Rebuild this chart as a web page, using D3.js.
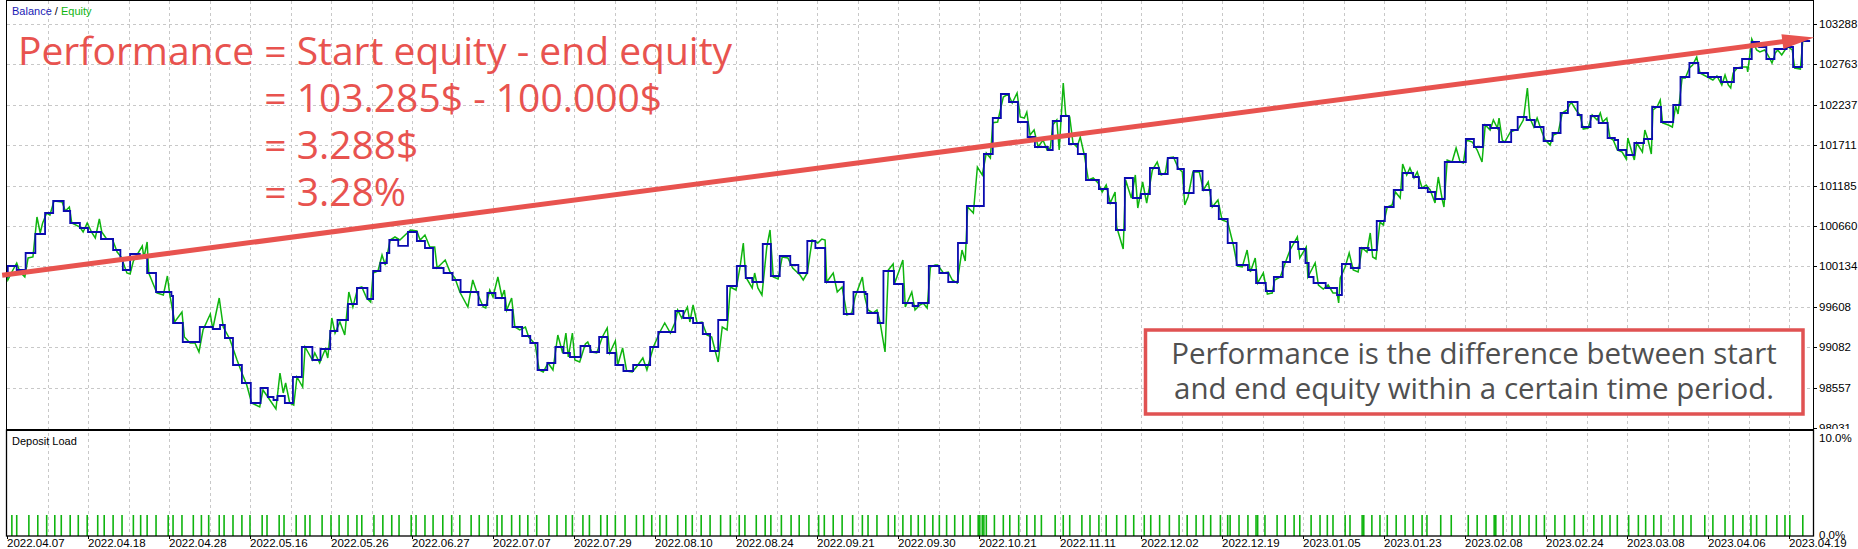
<!DOCTYPE html>
<html>
<head>
<meta charset="utf-8">
<script src="https://cdn.jsdelivr.net/npm/d3@7"></script>
<style>
body { margin: 0; background: #fff; }
svg text { font-family: "Liberation Sans", Arial, sans-serif; }
</style>
</head>
<body>
<script>
// x values are deal numbers, a date label every 10 deals
var dateLabels = ['2022.04.07','2022.04.18','2022.04.28','2022.05.16','2022.05.26','2022.06.27',
	'2022.07.07','2022.07.29','2022.08.10','2022.08.24','2022.09.21','2022.09.30','2022.10.21',
	'2022.11.11','2022.12.02','2022.12.19','2023.01.05','2023.01.23','2023.02.08','2023.02.24',
	'2023.03.08','2023.04.06','2023.04.19'];
var yTicks = [98031, 98557, 99082, 99608, 100134, 100660, 101185, 101711, 102237, 102763, 103288];
var loadTicks = [0, 10];

// [deal, balance]
var balance = [[0,100000],[0.1,100139],[1.2,100087],[2.3,100308],[3.5,100555],[4.7,100828],[5.7,100984],[7.0,100854],[7.8,100698],[9.0,100633],[10.0,100581],[11.6,100490],[13.1,100347],[14.0,100217],[14.3,100087],[15.2,100295],[16.4,100243],[17.3,100048],[18.4,99801],[20.3,99749],[20.5,99398],[21.7,99151],[23.8,99346],[25.4,99320],[26.3,99372],[26.9,99203],[27.9,98852],[29.0,98618],[30.1,98358],[31.3,98553],[32.2,98436],[32.9,98397],[33.4,98449],[34.3,98358],[35.3,98696],[36.4,99086],[37.7,98917],[38.7,99060],[39.9,99294],[40.8,99437],[42.1,99645],[43.2,99853],[44.5,99710],[45.2,100074],[46.1,100178],[46.9,100308],[47.2,100477],[48.3,100400],[49.5,100581],[50.6,100464],[51.6,100373],[52.6,100113],[53.9,100048],[55.0,99957],[56.0,99801],[58.2,99632],[59.3,99788],[60.3,99723],[61.5,99567],[62.4,99346],[63.6,99229],[64.6,99138],[65.5,98787],[66.7,98878],[67.7,99086],[68.7,99008],[69.5,98956],[70.8,99099],[72.0,99021],[73.1,99216],[74.1,99008],[75.1,98852],[76.1,98774],[77.3,98852],[79.4,99086],[80.4,99281],[82.5,99554],[83.5,99463],[84.7,99398],[85.9,99255],[86.8,99034],[87.8,99437],[88.9,99879],[90.1,100139],[91.2,99983],[92.0,99931],[93.3,100425],[94.3,100009],[95.4,100269],[96.7,100152],[97.7,100048],[98.8,100464],[99.8,100373],[101.0,99931],[103.3,99515],[104.5,99801],[106.0,99775],[106.2,99528],[107.5,99398],[108.2,100074],[109.5,99905],[110.6,99658],[111.8,99619],[112.5,99658],[113.8,100139],[115.1,100048],[116.2,99931],[117.4,100438],[118.5,100919],[120.6,101595],[121.7,102063],[122.7,102375],[123.7,102271],[124.8,102011],[126.0,101816],[126.9,101686],[128.5,101647],[129.1,102024],[130.1,102089],[131.1,101725],[132.2,101595],[133.2,101257],[134.8,101140],[135.9,100958],[136.9,100607],[138.0,101283],[139.0,101023],[140.0,101075],[141.1,101413],[142.2,101335],[143.3,101543],[144.5,101400],[145.3,101088],[146.5,101374],[147.6,101127],[148.6,100919],[149.6,100750],[150.7,100438],[151.8,100152],[153.2,100087],[154.2,99918],[155.4,99814],[156.4,99996],[157.5,100191],[158.4,100451],[159.4,100360],[160.3,100178],[160.7,99996],[161.3,99918],[162.8,99853],[164.2,99762],[164.8,100165],[165.9,100113],[167.0,100373],[168.1,100347],[169.1,100724],[170.1,100906],[171.2,101127],[172.3,101348],[173.6,101296],[174.3,101153],[175.4,101101],[176.3,101010],[177.5,101491],[180.1,101790],[181.1,101686],[182.2,101972],[183.1,101933],[184.2,101751],[185.7,101907],[186.5,102076],[187.6,102037],[188.6,101946],[189.7,101764],[190.8,101868],[191.8,102128],[192.7,102271],[193.9,102102],[194.4,101946],[195.5,102089],[196.5,101998],[197.6,101803],[198.5,101777],[198.9,101647],[199.9,101582],[200.9,101738],[202.1,101790],[203.1,102206],[204.2,102011],[205.7,102232],[206.6,102596],[207.7,102778],[208.8,102648],[210.0,102596],[211.6,102531],[213.2,102713],[214.2,102830],[215.4,103051],[216.3,102986],[217.2,102830],[218.2,102960],[219.7,102986],[220.5,102726],[221.6,103064],[222.6,103064]];

// [deal, equity]
var equity = [[0,100000],[0.1,99957],[0.6,100061],[1.2,100178],[1.6,100061],[2.2,99996],[2.6,100243],[3.2,100256],[3.7,100776],[4.1,100568],[4.4,100698],[4.9,100828],[5.3,100802],[5.8,100984],[6.8,100971],[7.2,100854],[7.7,100906],[8.0,100698],[9.0,100646],[9.4,100581],[9.9,100698],[10.5,100568],[10.9,100503],[11.4,100750],[11.7,100581],[12.3,100490],[13.0,100490],[13.6,100321],[14.1,100256],[14.8,100048],[15.2,100035],[15.6,100204],[16.7,100399],[16.9,100243],[17.3,100451],[17.5,100048],[18.5,99788],[19.3,99762],[19.8,100009],[20.1,99762],[20.7,99411],[21.6,99541],[21.9,99216],[22.6,99138],[23.2,99138],[23.7,99021],[24.2,99307],[25.1,99515],[25.4,99320],[26.2,99723],[26.7,99346],[27.5,99190],[28.4,98917],[29.0,98748],[29.6,98592],[30.2,98358],[31.2,98306],[31.6,98527],[32.2,98436],[33.2,98280],[33.7,98748],[34.1,98488],[34.4,98618],[34.9,98358],[35.4,98332],[35.8,98696],[36.5,98566],[36.8,99086],[37.7,98917],[38.0,99008],[38.6,98878],[39.3,99060],[39.6,98943],[40.1,99463],[40.5,99268],[41.1,99411],[41.7,99242],[42.2,99801],[42.7,99606],[43.3,99853],[43.8,99866],[44.4,99723],[44.9,99671],[45.2,100048],[45.8,100074],[46.3,100282],[46.7,100152],[47.3,100477],[47.9,100516],[48.5,100477],[49.8,100607],[50.6,100594],[51.0,100477],[51.6,100542],[52.2,100386],[52.8,100386],[53.1,100113],[54.1,100217],[54.7,100061],[55.3,99983],[55.9,99801],[56.9,99606],[57.5,99957],[58.0,99801],[58.8,99606],[59.1,99593],[59.6,99827],[60.0,99736],[60.6,99996],[61.1,99736],[61.4,99827],[61.7,99567],[62.3,99723],[62.7,99346],[63.3,99307],[64.0,99346],[64.4,99216],[65.2,99125],[65.7,98787],[66.2,98761],[66.8,98878],[67.4,98787],[68.0,99242],[68.6,99008],[69.0,99268],[69.3,98956],[69.8,99268],[70.1,98917],[70.7,98891],[71.4,99125],[71.7,99151],[72.2,99021],[72.8,99008],[73.5,99216],[74.1,99333],[74.4,99008],[75.1,99164],[75.4,98852],[76.0,99073],[76.5,98774],[77.2,98761],[77.8,98839],[78.5,98943],[79.0,98787],[79.8,99086],[80.6,99281],[81.2,99398],[81.9,99268],[82.5,99411],[82.8,99567],[83.3,99463],[84.0,99606],[84.3,99411],[84.7,99632],[85.2,99398],[85.8,99411],[86.4,99242],[87.0,99216],[87.5,99008],[87.8,98891],[88.3,99346],[88.9,99307],[89.3,99866],[90.0,99827],[90.5,100126],[90.9,100438],[91.2,99996],[92.0,99853],[92.3,100048],[92.7,99853],[93.2,99762],[93.8,100386],[94.2,100607],[94.6,99996],[95.2,99970],[95.7,100256],[96.4,100243],[97.0,100113],[97.9,100022],[98.3,99957],[98.8,100048],[99.4,100477],[100.1,100438],[100.6,100490],[101.0,100477],[101.2,99931],[102.0,100048],[102.5,99801],[103.1,99866],[103.7,99502],[104.3,99528],[104.7,99736],[105.6,99996],[105.9,99736],[106.3,99567],[106.9,99528],[107.4,99567],[107.8,99398],[108.4,99021],[108.8,100087],[109.4,100165],[109.6,99918],[110.6,100217],[110.9,99606],[111.7,99801],[112.1,99567],[112.7,99632],[113.1,99658],[113.6,99593],[114.0,100126],[114.6,100152],[114.9,100152],[115.6,100048],[116.2,100061],[116.7,99957],[117.3,99918],[117.9,100347],[118.3,100204],[118.6,100906],[119.3,100828],[119.8,101426],[120.4,101322],[120.9,101608],[121.4,101543],[121.7,102002],[122.3,102011],[123.0,102336],[123.6,102375],[124.1,102258],[124.7,102388],[125.1,102076],[125.6,102063],[125.9,102141],[126.3,101842],[126.8,101907],[127.3,101686],[127.9,101777],[128.4,101647],[128.8,101673],[129.1,101972],[129.6,102037],[129.9,101647],[130.4,102518],[130.7,102102],[131.2,102076],[131.6,101738],[132.1,101686],[132.5,101816],[133.0,101582],[133.5,101257],[134.1,101283],[134.7,101218],[135.2,101101],[135.7,101192],[136.2,100958],[136.8,101101],[137.0,100646],[137.8,100360],[138.1,101257],[138.8,101023],[139.3,101322],[139.6,100893],[140.2,101231],[140.7,100958],[141.4,101387],[142.0,101491],[142.5,101322],[143.0,101348],[143.3,101543],[144.0,101556],[144.6,101413],[145.1,101361],[145.4,100932],[145.8,101036],[146.4,101361],[147.2,101361],[147.7,101127],[148.3,101231],[148.8,100906],[149.5,100997],[150.0,100737],[150.7,100711],[151.4,100412],[151.9,100139],[152.5,100126],[153.1,100347],[153.5,100061],[154.1,100243],[154.4,99918],[155.1,100048],[155.6,99775],[156.2,99788],[156.5,99957],[157.2,99996],[157.8,100178],[158.4,100347],[159.3,100516],[159.6,100243],[160.4,100386],[160.6,99996],[161.5,100178],[161.9,99892],[162.5,99840],[163.1,99892],[163.7,99788],[164.2,99788],[164.4,99658],[164.6,99983],[165.2,100126],[165.7,100308],[166.2,100087],[166.8,100061],[167.3,100373],[167.9,100321],[168.3,100568],[168.6,100256],[169.0,100230],[169.5,100711],[169.9,100672],[170.4,100906],[171.0,100932],[171.4,101101],[172.0,101023],[172.3,101465],[172.8,101322],[173.2,101413],[173.7,101283],[174.1,101361],[174.7,101153],[175.2,101192],[175.7,101127],[176.3,100958],[176.7,101296],[177.2,100997],[177.4,100906],[177.8,101517],[178.4,101491],[178.9,101673],[179.4,101491],[179.8,101478],[180.2,101777],[180.9,101751],[181.5,101647],[182.1,101491],[182.5,101972],[183.1,101907],[183.5,102037],[184.0,101933],[184.2,102063],[184.6,101777],[184.9,101751],[185.6,101881],[186.2,101907],[186.5,101907],[187.2,102037],[187.7,102453],[188.0,102063],[188.5,101946],[188.9,102063],[189.5,101881],[189.9,101777],[190.5,101712],[190.9,101842],[191.5,101868],[192.0,102128],[192.6,102167],[193.1,102271],[193.7,102167],[194.2,102102],[194.6,101920],[195.2,101933],[195.7,102102],[196.3,102037],[196.7,102128],[197.0,102011],[197.5,102063],[197.9,101803],[198.3,101777],[198.8,101647],[199.4,101621],[199.9,101530],[200.1,101803],[200.6,101621],[200.9,101517],[201.2,101738],[201.9,101621],[202.2,101907],[202.6,101777],[203.0,101595],[203.2,102167],[203.7,102206],[204.1,102297],[204.4,101998],[205.1,101972],[205.6,101946],[206.0,102219],[206.3,102115],[206.8,102583],[207.2,102583],[207.7,102713],[208.1,102752],[208.6,102856],[209.0,102648],[210.6,102557],[211.1,102609],[211.5,102531],[211.7,102492],[212.1,102622],[212.5,102492],[212.8,102453],[213.1,102648],[213.6,102713],[214.2,102726],[214.8,102726],[214.9,102661],[215.4,103090],[216.0,102947],[216.4,102921],[217.0,102947],[217.4,102882],[217.9,102778],[218.3,102908],[218.6,102947],[219.1,102882],[219.5,102947],[219.9,102986],[220.4,102947],[220.7,102713],[221.4,102700],[221.7,103064],[222.6,103064]];

// deals with a deposit load bar, and their load in %
var loadDeals = [0.6,1.2,2.7,3.8,4.9,5.9,6.7,7.8,8.8,9.9,11.2,12.0,13.1,14.2,15.6,16.5,17.3,18.4,19.9,20.5,21.6,23.0,24.0,24.9,26.2,26.8,27.9,29.0,30.0,31.5,32.1,33.6,34.2,35.7,36.8,37.4,38.9,40.0,41.0,42.1,43.2,43.8,45.3,46.4,47.5,48.4,49.9,50.5,51.6,52.6,53.8,54.9,55.9,57.3,58.3,59.4,60.5,61.1,62.3,63.3,64.3,65.4,66.9,67.9,69.0,69.8,71.1,71.9,73.3,74.1,75.1,76.3,77.7,78.6,79.6,80.6,81.4,82.8,83.8,84.6,85.7,86.8,88.1,89.3,90.4,91.1,92.5,93.6,94.3,95.6,96.8,97.8,99.0,100.2,100.9,102.0,103.1,104.4,105.6,106.3,107.4,108.8,109.6,110.6,111.6,112.5,113.3,114.3,115.1,116.0,117.0,118.0,118.9,119.9,120.1,120.4,120.6,120.9,121.9,123.0,123.8,124.9,125.9,126.9,127.7,129.4,130.4,131.2,132.7,133.7,134.8,135.7,137.0,138.1,139.1,140.4,141.2,142.3,143.5,144.7,145.7,146.8,147.7,148.6,149.8,150.7,151.0,152.1,153.2,154.2,154.4,155.3,156.8,157.8,158.9,159.6,161.0,162.1,163.0,163.7,165.2,165.8,167.3,167.5,168.5,169.5,170.4,171.5,172.6,173.6,174.7,175.3,177.0,178.3,180.4,181.5,182.6,183.6,183.8,184.7,185.8,186.8,187.9,188.8,189.8,191.1,192.3,193.5,194.6,195.9,196.9,197.9,198.8,200.2,201.4,202.3,203.3,204.2,205.8,206.9,207.9,209.6,210.6,212.1,213.1,214.3,215.3,216.0,217.2,218.5,219.5,220.1,221.7];
var loadPct = 2.1;

// annotation: arrow from start equity to end equity
var arrowFrom = [-0.6, 100020];
var arrowTo = [223.1, 103110];
var formulaLines = ['Performance = Start equity - end equity', '= 103.285$ - 100.000$', '= 3.288$', '= 3.28%'];
var noteLines = ['Performance is the difference between start', 'and end equity within a certain time period.'];

var svg = d3.select('body')
	.append('svg')
	.attr('width', 1858)
	.attr('height', 549);

var left = 7, right = 1813, mainBottom = 429, loadTop = 431, loadBottom = 536;
var red = '#e8534f';
var green = '#0fb40f';

var x = d3.scaleLinear().domain([0, 222.96]).range([left, right]);
var y = d3.scaleLinear().domain([98020, 103597]).range([mainBottom, 0]);
var yLoad = d3.scaleLinear().domain([0, 10]).range([loadBottom, 436]);

svg.append('clipPath').attr('id', 'mainclip')
	.append('rect').attr('x', left).attr('y', 0).attr('width', right - left).attr('height', mainBottom);

// GRID
var gridX = d3.range(5, 223, 5);
svg.selectAll('.vgrid')
	.data(gridX)
	.enter()
	.append('line')
	.classed('vgrid', true)
	.attr('x1', function(d){ return Math.round(x(d)) + 0.5; })
	.attr('x2', function(d){ return Math.round(x(d)) + 0.5; })
	.attr('y1', 1)
	.attr('y2', loadBottom)
	.style('stroke', '#c8c8c8')
	.style('stroke-dasharray', '3,3');
svg.selectAll('.hgrid')
	.data(yTicks.slice(1))
	.enter()
	.append('line')
	.classed('hgrid', true)
	.attr('x1', left)
	.attr('x2', right)
	.attr('y1', function(d){ return Math.round(y(d)) + 0.5; })
	.attr('y2', function(d){ return Math.round(y(d)) + 0.5; })
	.style('stroke', '#c8c8c8')
	.style('stroke-dasharray', '3,3');

// LINES
var plot = svg.append('g').attr('clip-path', 'url(#mainclip)');
plot.append('path')
	.datum(equity)
	.attr('d', d3.line().x(function(d){ return x(d[0]); }).y(function(d){ return y(d[1]); }))
	.style('fill', 'none')
	.style('stroke', green)
	.style('stroke-width', 1.5);
plot.append('path')
	.datum(balance)
	.attr('d', d3.line().curve(d3.curveStepAfter).x(function(d){ return x(d[0]); }).y(function(d){ return y(d[1]); }))
	.style('fill', 'none')
	.style('stroke', '#0b0bb0')
	.style('stroke-width', 1.8);

// DEPOSIT LOAD
svg.selectAll('.load')
	.data(loadDeals)
	.enter()
	.append('line')
	.classed('load', true)
	.attr('x1', function(d){ return x(d); })
	.attr('x2', function(d){ return x(d); })
	.attr('y1', yLoad(0))
	.attr('y2', yLoad(loadPct))
	.style('stroke', green)
	.style('stroke-width', 1.6);

// FRAMES
svg.append('rect').attr('x', left - 0.5).attr('y', 0.5).attr('width', right - left + 1).attr('height', mainBottom)
	.style('fill', 'none').style('stroke', '#000');
svg.append('line').attr('x1', left - 1).attr('x2', right + 1).attr('y1', 430).attr('y2', 430)
	.style('stroke', '#000').style('stroke-width', 2);
svg.append('rect').attr('x', left - 0.5).attr('y', 430).attr('width', right - left + 1).attr('height', loadBottom - 430)
	.style('fill', 'none').style('stroke', '#000').style('stroke-width', 1.3);

// AXES
svg.append('clipPath').attr('id', 'axisclip')
	.append('rect').attr('x', right).attr('y', 0).attr('width', 60).attr('height', mainBottom);
var yAxis = svg.append('g').attr('clip-path', 'url(#axisclip)');
yAxis.selectAll('.ytick')
	.data(yTicks)
	.enter()
	.append('line')
	.attr('x1', right).attr('x2', right + 4)
	.attr('y1', function(d){ return Math.round(y(d)) + 0.5; })
	.attr('y2', function(d){ return Math.round(y(d)) + 0.5; })
	.style('stroke', '#000');
yAxis.selectAll('.ylabel')
	.data(yTicks)
	.enter()
	.append('text')
	.attr('x', right + 6)
	.attr('y', function(d){ return y(d) + 4; })
	.style('font-size', '11.5px')
	.text(function(d){ return d; });

svg.selectAll('.loadlabel')
	.data(loadTicks)
	.enter()
	.append('text')
	.attr('x', right + 6)
	.attr('y', function(d){ return d === 0 ? yLoad(d) + 3 : yLoad(d) + 6; })
	.style('font-size', '11.5px')
	.text(function(d){ return d.toFixed(1) + '%'; });

svg.selectAll('.xtick')
	.data(dateLabels)
	.enter()
	.append('line')
	.attr('x1', function(d, i){ return Math.round(x(i * 10)) + 0.5; })
	.attr('x2', function(d, i){ return Math.round(x(i * 10)) + 0.5; })
	.attr('y1', loadBottom)
	.attr('y2', loadBottom + 3)
	.style('stroke', '#000');
svg.selectAll('.xlabel')
	.data(dateLabels)
	.enter()
	.append('text')
	.attr('x', function(d, i){ return x(i * 10); })
	.attr('y', 547)
	.style('font-size', '11.5px')
	.text(function(d){ return d; });

// PANEL TITLES
var title = svg.append('text').attr('x', 12).attr('y', 15).style('font-size', '11px');
title.append('tspan').style('fill', '#1a1ab4').text('Balance');
title.append('tspan').style('fill', '#000').text(' / ');
title.append('tspan').style('fill', green).text('Equity');
svg.append('text').attr('x', 12).attr('y', 445).style('font-size', '11px').text('Deposit Load');

// ARROW
var p0 = [x(arrowFrom[0]), y(arrowFrom[1])];
var p1 = [x(arrowTo[0]), y(arrowTo[1])];
var dx = p1[0] - p0[0], dy = p1[1] - p0[1], len = Math.sqrt(dx * dx + dy * dy);
var ux = dx / len, uy = dy / len, headLen = 32, headW = 7.5;
var base = [p1[0] - ux * headLen, p1[1] - uy * headLen];
svg.append('line')
	.attr('x1', p0[0]).attr('y1', p0[1])
	.attr('x2', base[0] + ux * 2).attr('y2', base[1] + uy * 2)
	.style('stroke', red).style('stroke-width', 5);
svg.append('path')
	.attr('d', 'M' + p1[0] + ',' + p1[1] +
		'L' + (base[0] - uy * headW) + ',' + (base[1] + ux * headW) +
		'L' + (base[0] + uy * headW) + ',' + (base[1] - ux * headW) + 'Z')
	.style('fill', red);

// FORMULA
var f0 = svg.append('text')
	.attr('x', 18).attr('y', 65)
	.style('font-family', '"Open Sans", sans-serif')
	.style('font-size', '39px')
	.style('fill', red)
	.text(formulaLines[0]);
var eqX = 18 + f0.node().getSubStringLength(0, 12);
svg.selectAll('.formula')
	.data(formulaLines.slice(1))
	.enter()
	.append('text')
	.attr('x', eqX)
	.attr('y', function(d, i){ return 112 + i * 47; })
	.style('font-family', '"Open Sans", sans-serif')
	.style('font-size', '39px')
	.style('fill', red)
	.text(function(d){ return d; });

// NOTE BOX
svg.append('rect')
	.attr('x', 1145.5).attr('y', 330).attr('width', 657.5).attr('height', 84)
	.style('fill', '#fff').style('stroke', '#e05252').style('stroke-width', 3.5);
svg.selectAll('.note')
	.data(noteLines)
	.enter()
	.append('text')
	.attr('x', 1474).attr('y', function(d, i){ return 364 + i * 35; })
	.style('text-anchor', 'middle')
	.style('font-family', '"Open Sans", sans-serif')
	.style('font-size', '29.5px')
	.style('fill', '#505050')
	.text(function(d){ return d; });
</script>
</body>
</html>
